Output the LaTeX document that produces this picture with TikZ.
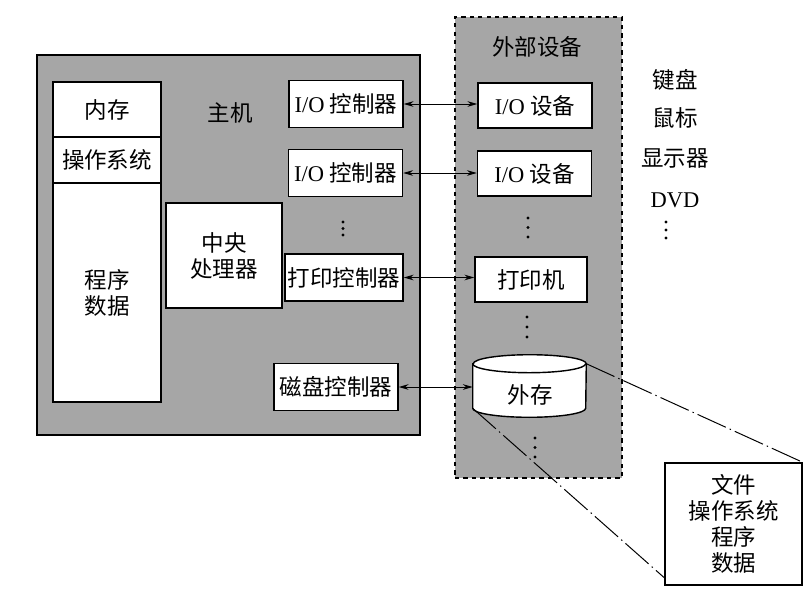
\documentclass[tikz,border=0pt]{standalone}
\usepackage{fontspec}
\setmainfont{Liberation Serif}
\newfontfamily\cjk{Noto Sans CJK SC}
\usetikzlibrary{positioning,arrows.meta,calc}
\newcommand\lat[1]{{\rmfamily #1}}

\begin{document}
\begin{tikzpicture}[x=0.025cm, y=0.025cm,
          every node/.style={font=\cjk\fontsize{16}{18.5}\selectfont},
          panel/.style={draw, line width=1pt, fill=gray!70},
          box/.style={draw, line width=1pt, fill=white, inner sep=2pt},
          ctl/.style={box, minimum height=1.175cm},
          dev/.style={box, minimum width=2.85cm, minimum height=1.125cm},
          link/.style={{Stealth[length=7pt,width=4pt]}-{Stealth[length=7pt,width=4pt]}, line width=0.7pt},
          dashdot/.style={line width=0.7pt, dash pattern=on 22pt off 3pt on 1pt off 3pt}
      ]
        \useasboundingbox (0,0) rectangle (811,-608);

        % host and peripherals panels
        \node[panel, minimum width=9.575cm, minimum height=9.5cm] (host) at (228.5,-245) {};
        \node[panel, dashed, minimum width=4.175cm, minimum height=11.525cm] (ext) at (538.5,-247.5) {};
        \node (hostlbl) at (230,-113) {主机};
        \node (extlbl) at (537,-47) {外部设备};

        % memory column
        \node[box, minimum width=2.7cm, minimum height=1.375cm] (m0) at (107,-109.5) {内存};
        \node[box, minimum width=2.7cm, minimum height=1.15cm] (m1) at (107,-160) {操作系统};
        \node[box, minimum width=2.7cm, minimum height=5.475cm, align=center] (m2) at (107,-292.5) {程序\\数据};

        \node[box, minimum width=2.9cm, minimum height=2.625cm, align=center] (cpu) at (224,-255.5) {中央\\处理器};

        % controllers
        \node[ctl, minimum width=2.85cm] (c0) at (346,-104) {\lat{I/O} 控制器};
        \node[ctl, minimum width=2.85cm] (c1) at (345.5,-173) {\lat{I/O} 控制器};
        \node[ctl, minimum width=2.95cm] (c2) at (344,-277.5) {打印控制器};
        \node[ctl, minimum width=3.1cm] (c3) at (336,-387) {磁盘控制器};

        % devices
        \node[dev] (d0) at (535,-105.5) {\lat{I/O} 设备};
        \node[dev] (d1) at (534.5,-173.5) {\lat{I/O} 设备};
        \node[dev, minimum width=2.8cm] (d2) at (531,-279.5) {打印机};
        \node[minimum width=2.825cm, minimum height=1.55cm] (disk) at (529.5,-386) {};
        \draw[line width=1pt, fill=white] ($(disk.north west)+(0,-9)$) -- ($(disk.south west)+(0,9)$)
          arc[start angle=180, end angle=360, x radius=56.5, y radius=9]
          -- ($(disk.north east)+(0,-9)$)
          arc[start angle=0, end angle=180, x radius=56.5, y radius=9] -- cycle;
        \draw[line width=1pt] ($(disk.north west)+(0,-9)$) arc[start angle=180, end angle=360, x radius=56.5, y radius=9];
        \node (disklbl) at (530,-395) {外存};

        % examples of devices
        \node (k0) at (675,-80) {键盘};
        \node (k1) at (675,-118) {鼠标};
        \node (k2) at (675,-158) {显示器};
        \node (k3) at (675,-200) {\lat{DVD}};

        % vertical dots
        \coordinate (cv) at (343,-222);
        \coordinate (dv0) at (528,-218);
        \coordinate (dv1) at (527,-317);
        \coordinate (dv2) at (535,-438);
        \coordinate (kv) at (666,-222);
        \foreach \k in {0,1,2} {
          \fill ($(cv)+(0,-6.5*\k)$) circle (1.6);
          \fill ($(dv0)+(0,-9.5*\k)$) circle (1.6);
          \fill ($(dv1)+(0,-10*\k)$) circle (1.6);
          \fill ($(dv2)+(0,-9.5*\k)$) circle (1.6);
          \fill ($(kv)+(0,-8*\k)$) circle (1.6);
        }

        \node[box, minimum width=3.425cm, minimum height=3.05cm, align=center] (files) at (733.5,-524) {文件\\操作系统\\程序\\数据};

        \draw[link] (c0.east) -- (c0.east -| d0.west);
        \draw[link] (c1.east) -- (c1.east -| d1.west);
        \draw[link] (c2.east) -- (c2.east -| d2.west);
        \draw[link] (c3.east) -- (c3.east -| disk.west);

        \coordinate (dtr) at ($(disk.north east)+(0,-9)$);
        \coordinate (dbl) at ($(disk.south west)+(0,9)$);
        \draw[dashdot] (dtr) -- (files.north east);
        \draw[dashdot] (dbl) -- ($(files.south west)+(0,8)$);
      \end{tikzpicture}
\end{document}
